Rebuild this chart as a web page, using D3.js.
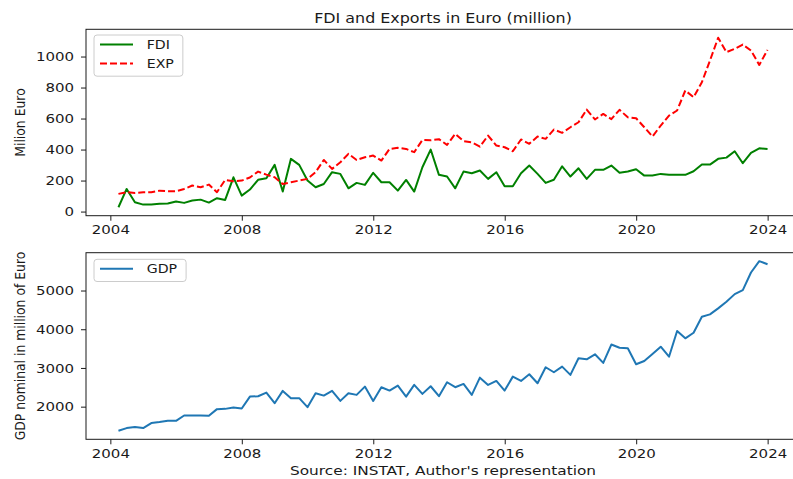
<!DOCTYPE html>
<html>
<head>
<meta charset="utf-8">
<script src="https://cdn.jsdelivr.net/npm/d3@7"></script>
<style>
  body { margin: 0; background: #fff; }
  svg { display: block; }
  text { font-family: "DejaVu Sans", sans-serif; }
</style>
</head>
<body>
<svg id="chart" width="793" height="479"></svg>
<script>
// Quarterly observations, 2004Q1 .. 2023Q4
const firstYear = 2004, lastYear = 2023;
const quarters = [];
for (let y = firstYear; y <= lastYear; y++) for (let q = 1; q <= 4; q++) quarters.push(`${y}Q${q}`);

// Foreign direct investment, million euro
const fdi = [28, 146, 60, 45, 45, 50, 52, 65, 56, 71, 77, 58, 86, 75, 221, 103,
  142, 205, 215, 301, 129, 340, 301, 200, 157, 178, 254, 243, 150, 185, 172, 250,
  189, 189, 135, 204, 129, 286, 400, 237, 226, 150, 258, 247, 265, 211, 254, 163,
  163, 247, 297, 243, 185, 205, 292, 226, 279, 211, 269, 269, 297, 250, 258, 273,
  232, 232, 243, 237, 237, 237, 260, 303, 303, 340, 348, 389, 312, 379, 408, 404];

// Exports, million euro
const exp = [114, 125, 120, 125, 125, 135, 131, 131, 146, 168, 157, 174, 125, 204, 196, 200,
  220, 258, 238, 221, 178, 189, 200, 211, 254, 333, 275, 318, 372, 333, 350, 361,
  329, 404, 411, 404, 383, 462, 460, 467, 430, 501, 454, 447, 419, 490, 426, 415,
  389, 465, 437, 484, 469, 529, 508, 544, 576, 658, 594, 630, 596, 656, 608, 602,
  544, 484, 555, 619, 652, 781, 737, 834, 974, 1121, 1028, 1050, 1077, 1039, 946, 1043];

// Nominal GDP, million euro
const gdp = [1376, 1446, 1472, 1446, 1575, 1601, 1634, 1634, 1771, 1771, 1771, 1763, 1936, 1943, 1977, 1951,
  2260, 2270, 2363, 2090, 2407, 2219, 2219, 1987, 2348, 2286, 2407, 2149, 2348, 2304, 2518, 2149,
  2502, 2415, 2544, 2260, 2562, 2330, 2527, 2270, 2631, 2502, 2588, 2304, 2750, 2562, 2665, 2415,
  2776, 2665, 2838, 2605, 3018, 2889, 3034, 2820, 3250, 3224, 3353, 3130, 3605, 3523, 3508, 3095,
  3180, 3361, 3549, 3291, 3954, 3765, 3910, 4322, 4384, 4539, 4709, 4907, 5010, 5466, 5758, 5680];

const xTickYears = [2004, 2008, 2012, 2016, 2020, 2024];
const topTicks = [0, 200, 400, 600, 800, 1000];
const bottomTicks = [2000, 3000, 4000, 5000];

const titleText = "FDI and Exports in Euro (million)";
const topYLabel = "Milion Euro";
const bottomYLabel = "GDP nominal in million of Euro";
const sourceText = "Source: INSTAT, Author's representation";

// ---- layout ----
const SX = 1.18;                      // horizontal glyph stretch
const INK = "#1a1a1a";
const plotLeft = 86, plotRight = 800;
const topBox = { top: 29.3, bottom: 215.7 };
const botBox = { top: 252.7, bottom: 439.3 };

const svg = d3.select("#chart");

// quarter end dates
const dates = quarters.map(s => {
  const [y, q] = s.split("Q").map(Number);
  return new Date(y, q * 3, 0);
});

const [d0, d1] = d3.extent(dates);
const xPad = (d1 - d0) * 0.05;
const x = d3.scaleTime()
  .domain([new Date(+d0 - xPad), new Date(+d1 + xPad)])
  .range([plotLeft, plotRight]);

function padded(vals) {
  const [a, b] = d3.extent(vals);
  const m = (b - a) * 0.05;
  return [a - m, b + m];
}
const yTop = d3.scaleLinear().domain(padded(fdi.concat(exp))).range([topBox.bottom, topBox.top]);
const yBot = d3.scaleLinear().domain(padded(gdp)).range([botBox.bottom, botBox.top]);

const xTickDates = xTickYears.map(y => new Date(y, 0, 1));

function drawAxes(y, box, yTicks) {
  const gx = svg.append("g")
    .attr("transform", `translate(0,${box.bottom})`)
    .call(d3.axisBottom(x).tickValues(xTickDates).tickFormat(d3.timeFormat("%Y"))
      .tickSize(5).tickPadding(4.3));
  const gy = svg.append("g")
    .attr("transform", `translate(${plotLeft},0)`)
    .call(d3.axisLeft(y).tickValues(yTicks).tickFormat(d3.format("d"))
      .tickSize(5).tickPadding(5.2));
  [gx, gy].forEach(g => {
    g.select(".domain").remove();
    g.attr("font-family", null).attr("font-size", null);
    g.selectAll("line").attr("stroke", INK).attr("stroke-width", 1);
    g.selectAll("text")
      .attr("fill", INK)
      .attr("font-size", 12.7)
      .attr("transform", `scale(${SX},1)`);
  });
  // frame
  svg.append("rect")
    .attr("x", plotLeft).attr("y", box.top)
    .attr("width", plotRight - plotLeft).attr("height", box.bottom - box.top)
    .attr("fill", "none").attr("stroke", INK).attr("stroke-width", 1);
}

function drawSeries(values, y, color, dash) {
  const line = d3.line().x((d, i) => x(dates[i])).y(d => y(d));
  svg.append("path")
    .datum(values)
    .attr("d", line)
    .attr("fill", "none")
    .attr("stroke", color)
    .attr("stroke-width", 2)
    .attr("stroke-linejoin", "round")
    .attr("stroke-dasharray", dash || null);
}

function stretchedText(str, tx, ty, size, anchor, extra) {
  const g = svg.append("g").attr("transform", `translate(${tx},${ty}) scale(${SX},1)${extra || ""}`);
  return g.append("text")
    .attr("text-anchor", anchor)
    .attr("font-size", size)
    .attr("fill", INK)
    .text(str);
}

function drawLegend(x0, y0, entries) {
  const rowGap = 19, firstRow = 9.5, bottomPad = 12.7;
  const g = svg.append("g");
  const box = g.append("rect")
    .attr("x", x0).attr("y", y0).attr("rx", 3).attr("ry", 3)
    .attr("fill", "#fff").attr("fill-opacity", 0.8)
    .attr("stroke", "#cccccc").attr("stroke-width", 1);
  let maxW = 0;
  entries.forEach((e, i) => {
    const cy = y0 + firstRow + i * rowGap;
    g.append("line")
      .attr("x1", x0 + 6).attr("x2", x0 + 39)
      .attr("y1", cy).attr("y2", cy)
      .attr("stroke", e.color).attr("stroke-width", 2)
      .attr("stroke-dasharray", e.dash || null);
    const t = g.append("g").attr("transform", `translate(${x0 + 52.7},${cy}) scale(${SX},1)`)
      .append("text")
      .attr("dy", "0.36em")
      .attr("font-size", 12)
      .attr("fill", INK)
      .text(e.label);
    maxW = Math.max(maxW, t.node().getComputedTextLength() * SX);
  });
  box.attr("width", 52.7 + maxW + 9)
     .attr("height", firstRow + (entries.length - 1) * rowGap + bottomPad);
}

// ---- top panel: FDI and exports ----
drawSeries(fdi, yTop, "#008000");
drawSeries(exp, yTop, "#ff0000", "7,3");
drawAxes(yTop, topBox, topTicks);
drawLegend(94, 35, [
  { label: "FDI", color: "#008000" },
  { label: "EXP", color: "#ff0000", dash: "7,3" }
]);

// ---- bottom panel: GDP ----
drawSeries(gdp, yBot, "#1f77b4");
drawAxes(yBot, botBox, bottomTicks);
drawLegend(94, 259.3, [{ label: "GDP", color: "#1f77b4" }]);

// ---- labels ----
const cx = (plotLeft + plotRight) / 2;
stretchedText(titleText, cx, 22.7, 13.5, "middle");
stretchedText(topYLabel, 25, (topBox.top + topBox.bottom) / 2, 12.4, "middle", " rotate(-90)");
stretchedText(bottomYLabel, 25, (botBox.top + botBox.bottom) / 2, 12.4, "middle", " rotate(-90)");
stretchedText(sourceText, cx, 475, 13, "middle");
</script>
</body>
</html>
